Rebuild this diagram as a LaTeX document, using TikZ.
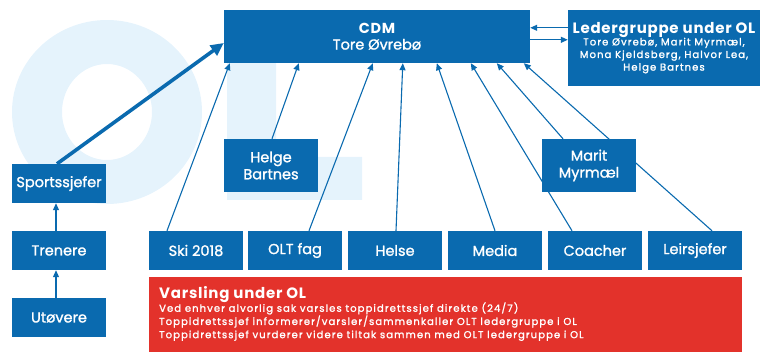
\documentclass[tikz,border=0pt]{standalone}
\usepackage{fontspec}
\setmainfont{Poppins}[UprightFeatures={FakeBold=1.3},BoldFeatures={LetterSpace=5}]
\newfontfamily\listfont{Poppins}[UprightFeatures={FakeBold=1.6},LetterSpace=11]
\usetikzlibrary{arrows.meta,calc}
\definecolor{olblue}{RGB}{10,106,175}
\definecolor{olred}{RGB}{227,50,43}
\definecolor{olwater}{RGB}{229,243,252}
\pgfdeclarelayer{bg}
\pgfsetlayers{bg,main}

\begin{document}
\begin{tikzpicture}[x=1pt,y=-1pt,
  box/.style={fill=olblue,text=white,inner sep=0pt,align=center,
    minimum width=94pt,font=\fontsize{14.5}{17}\selectfont},
  unit/.style={box,minimum height=39pt},
  person/.style={box,minimum height=53pt},
  link/.style={olblue,line width=1.1pt,-{Triangle[length=7pt,width=6pt]}},
  mainlink/.style={olblue,line width=3.6pt,-{Triangle[length=13pt,width=12pt]}}]

\useasboundingbox (0,0) rectangle (760,352);

% top level
\node[box,minimum width=306pt,minimum height=53pt] (cdm) at (377,36.5)
  {{\bfseries CDM}\\[-1pt]Tore Øvrebø};
\node[box,minimum width=192pt,minimum height=76pt,font=\listfont\fontsize{10}{12.6}\selectfont] (leder) at (664,48)
  {{\normalfont\fontsize{15}{18}\selectfont\bfseries Ledergruppe under OL}\\[-1pt]
   Tore Øvrebø, Marit Myrmæl,\\Mona Kjeldsberg, Halvor Lea,\\Helge Bartnes};

% middle level
\node[person] (helge) at (271,165.5) {Helge\\Bartnes};
\node[person] (marit) at (589,165.5) {Marit\\Myrmæl};

% athlete chain
\node[unit] (sport) at (59,183.5) {Sportssjefer};
\node[unit] (tren)  at (59,250.5) {Trenere};
\node[unit] (utov)  at (59,317.5) {Utøvere};

% functional units
\node[unit] (ski)   at (196,250.5) {Ski 2018};
\node[unit] (olt)   at (295,250.5) {OLT fag};
\node[unit] (helse) at (395,250.5) {Helse};
\node[unit] (media) at (495,250.5) {Media};
\node[unit] (coach) at (595,250.5) {Coacher};
\node[unit] (leir)  at (695,250.5) {Leirsjefer};

% alert routine
\node[fill=olred,inner sep=0pt,minimum width=593pt,minimum height=75pt,anchor=north west] (alarm) at (149,277) {};
\node[anchor=north west,inner sep=0pt,text=white,align=left,font=\listfont\fontsize{10}{13.2}\selectfont]
  (alarmtext) at ($(alarm.north west)+(10,9)$)
  {{\normalfont\fontsize{15}{16}\selectfont\bfseries Varsling under OL}\\[-1pt]
   Ved enhver alvorlig sak varsles toppidrettssjef direkte (24/7)\\
   Toppidrettssjef informerer/varsler/sammenkaller OLT ledergruppe i OL\\
   Toppidrettssjef vurderer videre tiltak sammen med OLT ledergruppe i OL};

\begin{pgfonlayer}{bg}
  % "OL" watermark
  \fill[olwater,even odd rule] (107,112) ellipse [x radius=95,y radius=92]
                               (107,112) ellipse [x radius=45,y radius=48];
  \fill[olwater] (227,21) -- (276,21) -- (276,157) -- (362,157) -- (362,200) -- (227,200) -- cycle;

  % reporting lines to CDM
  \draw[mainlink] ($(sport.north)+(-2,0)$) -- ($(cdm.west)+(0,6.5)$);
  \draw[link] ($(ski.north)+(-29,0)$)   -- ($(cdm.south west)+(6,0)$);
  \draw[link] ($(helge.north)+(1,0)$)   -- ($(cdm.south west)+(75,0)$);
  \draw[link] ($(olt.north)+(14,0)$)    -- ($(cdm.south west)+(149,0)$);
  \draw[link] ($(helse.north)+(1,0)$)   -- ($(cdm.south west)+(179,0)$);
  \draw[link] (media.north)             -- ($(cdm.south west)+(213,0)$);
  \draw[link] ($(coach.north)+(-23,0)$) -- ($(cdm.south west)+(247,0)$);
  \draw[link] ($(marit.north)+(-26,0)$) -- ($(cdm.south west)+(273,0)$);
  \draw[link] ($(leir.north)+(17,0)$)   -- ($(cdm.south west)+(300,0)$);

  % CDM and the leader group
  \draw[link] ($(leder.north west)+(0,18)$) -- ($(cdm.north east)+(0,18)$);
  \draw[link] ($(cdm.north east)+(0,30)$) -- ($(leder.north west)+(0,30)$);

  % athlete chain
  \draw[link] ($(tren.north)+(-3,0)$) -- ($(sport.south)+(-3,0)$);
  \draw[link] ($(utov.north)+(-3,0)$) -- ($(tren.south)+(-3,0)$);
\end{pgfonlayer}
\end{tikzpicture}
\end{document}
